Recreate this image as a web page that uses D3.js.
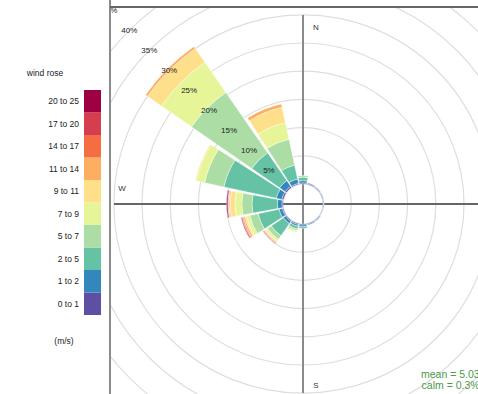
<!DOCTYPE html>
<html>
<head>
<meta charset="utf-8">
<script src="https://cdn.jsdelivr.net/npm/d3@7"></script>
<style>
  body { margin: 0; background: #fff; }
  svg { display: block; font-family: "Liberation Sans", Arial, sans-serif; }
</style>
</head>
<body>
<div id="canvas"></div>
<script>
"use strict"

// 16 directions, bearings clockwise from north
let directions = [0, 22.5, 45, 67.5, 90, 112.5, 135, 157.5, 180, 202.5, 225, 247.5, 270, 292.5, 315, 337.5];

// frequency (%) per direction for each speed bin
//               N    NNE   NE    ENE   E     ESE   SE    SSE   S    SSW  SW   WSW  W    WNW  NW    NNW
let s0to1   = [0.2,  0.15, 0.15, 0.1,  0.1,  0.1,  0.15, 0.15, 0.2, 0.2, 0.2, 0.2, 0.2, 0.3, 0.3,  0.2];
let s1to2   = [0.4,  0.15, 0.1,  0.1,  0.1,  0.05, 0.1,  0.15, 0.3, 0.3, 0.5, 0.6, 0.8, 1.0, 1.2,  0.8];
let s2to5   = [0.6,  0,    0,    0,    0,    0,    0,    0,    0.3, 0.5, 2.6, 3.8, 4.5, 9.5, 6.0,  2.5];
let s5to7   = [0.3,  0,    0,    0,    0,    0,    0,    0,    0,   0.3, 0.8, 1.5, 1.8, 3.5, 13.0, 4.7];
let s7to9   = [0,    0,    0,    0,    0,    0,    0,    0,    0,   0.3, 0.4, 0.6, 1.2, 1.5, 6.5,  3.0];
let s9to11  = [0,    0,    0,    0,    0,    0,    0,    0,    0,   0,   0.2, 0.3, 0.9, 0.2, 3.0,  2.8];
let s11to14 = [0,    0,    0,    0,    0,    0,    0,    0,    0,   0,   0.1, 0.3, 0.2, 0,   0.4,  0.6];
let s14to17 = [0,    0,    0,    0,    0,    0,    0,    0,    0,   0,   0.1, 0.2, 0.1, 0,   0,    0];
let s17to20 = [0,    0,    0,    0,    0,    0,    0,    0,    0,   0,   0.1, 0.2, 0.1, 0,   0,    0];
let s20to25 = [0,    0,    0,    0,    0,    0,    0,    0,    0,   0,   0,   0,   0.2, 0,   0,    0];

let speedBins = ["0 to 1", "1 to 2", "2 to 5", "5 to 7", "7 to 9", "9 to 11", "11 to 14", "14 to 17", "17 to 20", "20 to 25"];
let ringTicks = [5, 10, 15, 20, 25, 30, 35, 40, 45];
let compass = [["N", 0], ["S", 180], ["W", 270]];
let statLines = ["mean = 5.03", "calm = 0.3%"];

let series = [s0to1, s1to2, s2to5, s5to7, s7to9, s9to11, s11to14, s14to17, s17to20, s20to25];
let colours = d3.schemeSpectral[10].slice().reverse();

let drawingWidth = 478;
let drawingHeight = 394;
let cx = 303;
let cy = 204;

let drawing = d3.select("#canvas")
    .append("svg")
    .attr("width", drawingWidth)
    .attr("height", drawingHeight);

let r = d3.scaleLinear().domain([0, 40]).range([20, 245.6]);

// panel clip
drawing.append("clipPath").attr("id", "panel")
  .append("rect")
    .attr("x", 111).attr("y", 8)
    .attr("width", 400).attr("height", 400);

let panel = drawing.append("g").attr("clip-path", "url(#panel)");
let rose = panel.append("g").attr("transform", `translate(${cx},${cy})`);

// grid rings
rose.selectAll(".ring")
  .data([0].concat(ringTicks))
  .join("circle")
    .attr("r", d => r(d))
    .attr("fill", "none")
    .attr("stroke", "#dedede")
    .attr("stroke-width", 1.2);

// axis cross
let axLen = 189;
rose.append("line")
    .attr("x1", 0).attr("x2", 0).attr("y1", -axLen).attr("y2", axLen)
    .attr("stroke", "#8a8a8a").attr("stroke-width", 2);
rose.append("line")
    .attr("x1", -axLen).attr("x2", axLen).attr("y1", 0).attr("y2", 0)
    .attr("stroke", "#666").attr("stroke-width", 1.8);

// paddles
let half = 10.3 * Math.PI / 180;
let arc = d3.arc();
let segs = [];
directions.forEach((dir, i) => {
  let cum = 0;
  series.forEach((s, k) => {
    if (s[i] > 0) {
      segs.push({dir: dir, from: cum, to: cum + s[i], k: k});
      cum += s[i];
    }
  });
});

rose.selectAll(".paddle")
  .data(segs)
  .join("path")
    .attr("d", d => arc({
      innerRadius: r(d.from),
      outerRadius: r(d.to),
      startAngle: d.dir * Math.PI / 180 - half,
      endAngle: d.dir * Math.PI / 180 + half
    }))
    .attr("fill", d => colours[d.k])
    .attr("stroke", "white")
    .attr("stroke-width", 0.4);

// percent labels along NW
let a = -Math.PI / 4;
rose.selectAll(".pct")
  .data(ringTicks)
  .join("text")
    .attr("x", d => r(d) * Math.sin(a))
    .attr("y", d => -r(d) * Math.cos(a))
    .attr("text-anchor", "middle")
    .attr("dy", "0.35em")
    .attr("font-size", 8)
    .attr("fill", "#222")
    .text(d => d + "%");

// compass letters
rose.selectAll(".dirlab")
  .data(compass)
  .join("text")
    .attr("x", d => d[1] === 270 ? -181 : 13)
    .attr("y", d => d[1] === 0 ? -177 : d[1] === 180 ? 181 : -16)
    .attr("text-anchor", "middle")
    .attr("dy", "0.35em")
    .attr("font-size", 8)
    .attr("fill", "#333")
    .text(d => d[0]);

// stats text (runs past the right edge, as in the original)
let stats = panel.selectAll(".stat")
  .data(statLines)
  .join("text")
    .attr("y", (d, i) => 378 + i * 11)
    .attr("text-anchor", "end")
    .attr("font-size", 10.5)
    .attr("fill", "#4a9a4a")
    .text(d => d);
let w0 = stats.node().getComputedTextLength();
stats.attr("x", 421 + w0);

// panel border
drawing.append("line")
    .attr("x1", 110).attr("x2", drawingWidth).attr("y1", 7).attr("y2", 7)
    .attr("stroke", "#666").attr("stroke-width", 2);
drawing.append("line")
    .attr("x1", 110).attr("x2", 110).attr("y1", 0).attr("y2", drawingHeight)
    .attr("stroke", "#666").attr("stroke-width", 1.5);

// legend
let legY = d3.scaleBand()
    .domain(speedBins.slice().reverse())
    .range([90, 315]);

drawing.append("text")
    .attr("x", 45).attr("y", 76)
    .attr("text-anchor", "middle")
    .attr("font-size", 8.5)
    .attr("fill", "#222")
    .text("wind rose");

drawing.selectAll(".legrect")
  .data(speedBins)
  .join("rect")
    .attr("x", 84)
    .attr("y", d => legY(d))
    .attr("width", 17)
    .attr("height", legY.bandwidth())
    .attr("fill", (d, i) => colours[i]);

drawing.selectAll(".leglab")
  .data(speedBins)
  .join("text")
    .attr("x", 79)
    .attr("y", d => legY(d) + legY.bandwidth() / 2)
    .attr("dy", "0.35em")
    .attr("text-anchor", "end")
    .attr("font-size", 8.5)
    .attr("fill", "#222")
    .text(d => d);

drawing.append("text")
    .attr("x", 64).attr("y", 344)
    .attr("text-anchor", "middle")
    .attr("font-size", 8.5)
    .attr("fill", "#222")
    .text("(m/s)");
</script>
</body>
</html>
